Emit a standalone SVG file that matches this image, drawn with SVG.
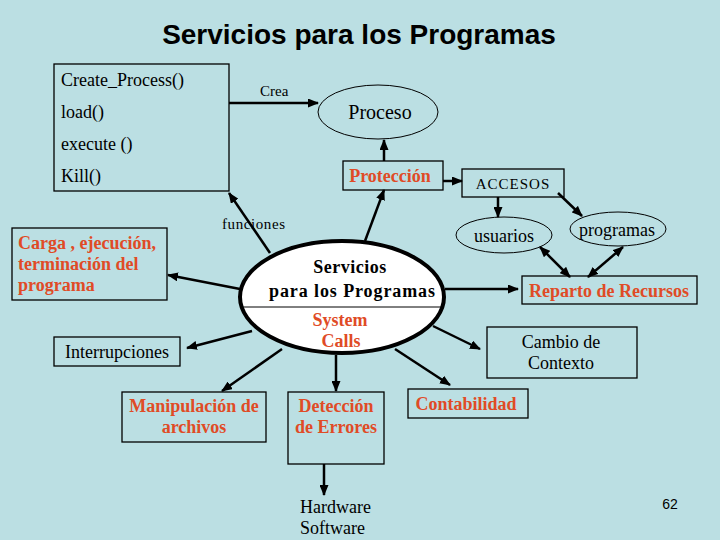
<svg xmlns="http://www.w3.org/2000/svg" width="720" height="540" viewBox="0 0 720 540">
<style>
.box{fill:none;stroke:#000;stroke-width:1.3}
.ell{fill:none;stroke:#000;stroke-width:1}
.r{font-weight:bold;fill:#E04B26}
.c{text-anchor:middle}
.ln{stroke:#000;stroke-width:2.5;fill:none;marker-end:url(#ah)}
</style>
<defs>
<marker id="ah" markerUnits="userSpaceOnUse" markerWidth="11" markerHeight="9" refX="10" refY="4.5" orient="auto-start-reverse">
<path d="M0,0 L11,4.5 L0,9 z" fill="#000"/>
</marker>
</defs>
<rect width="720" height="540" fill="#BBDFE3"/>
<text x="359" y="44" text-anchor="middle" font-family="'Liberation Sans', Arial, sans-serif" font-size="28" font-weight="bold">Servicios para los Programas</text>

<g font-family="'Liberation Serif', 'DejaVu Serif', serif" font-size="18">
<g id="connectors">
<line class="ln" x1="229" y1="103" x2="318" y2="103"/>
<line class="ln" x1="384" y1="161" x2="384" y2="140"/>
<line class="ln" x1="443" y1="181" x2="462" y2="181"/>
<line class="ln" x1="498" y1="197" x2="498" y2="217"/>
<line class="ln" x1="558" y1="193" x2="582" y2="216"/>
<line class="ln" style="marker-start:url(#ah)" x1="540" y1="247" x2="570" y2="277"/>
<line class="ln" style="marker-start:url(#ah)" x1="623" y1="247" x2="588" y2="277"/>
<line class="ln" x1="270" y1="253" x2="229" y2="193"/>
<line class="ln" x1="365" y1="241" x2="384" y2="190"/>
<line class="ln" x1="240" y1="289" x2="168" y2="275"/>
<line class="ln" x1="445" y1="289" x2="518" y2="289"/>
<line class="ln" x1="252" y1="331" x2="187" y2="348"/>
<line class="ln" x1="282" y1="349" x2="222" y2="391"/>
<line class="ln" x1="336" y1="355" x2="336" y2="391"/>
<line class="ln" x1="433" y1="326" x2="480" y2="349"/>
<line class="ln" x1="395" y1="349" x2="450" y2="385"/>
<line class="ln" x1="324" y1="464" x2="324" y2="495"/>
<text x="260" y="96" font-size="15">Crea</text>
<text x="222" y="229" font-size="15" textLength="63">funciones</text>
</g>

<g id="operaciones">
<rect class="box" x="54" y="64" width="175" height="127"/>
<text x="61" y="86">Create_Process()</text>
<text x="61" y="118">load()</text>
<text x="61" y="150">execute ()</text>
<text x="61" y="182">Kill()</text>
</g>

<g id="proceso">
<ellipse class="ell" cx="378" cy="112" rx="60" ry="27"/>
<text class="c" x="380" y="119" font-size="20">Proceso</text>
</g>

<g id="proteccion">
<rect class="box" x="343" y="161" width="100" height="29"/>
<text class="r c" x="390" y="182">Protección</text>
</g>

<g id="accesos">
<rect class="box" x="462" y="169" width="102" height="28"/>
<text class="c" x="513" y="189" font-size="15" letter-spacing="1">ACCESOS</text>
</g>

<g id="usuarios">
<ellipse class="ell" cx="504" cy="235" rx="48" ry="18"/>
<text class="c" x="504" y="242">usuarios</text>
</g>

<g id="programas">
<ellipse class="ell" cx="618" cy="229" rx="48" ry="17"/>
<text class="c" x="617" y="236">programas</text>
</g>

<g id="reparto">
<rect class="box" x="522" y="276" width="175" height="28"/>
<text class="r c" x="609" y="297">Reparto de Recursos</text>
</g>

<g id="carga">
<rect class="box" x="12" y="228" width="155" height="72"/>
<text class="r" x="18" y="249">Carga , ejecución,</text>
<text class="r" x="18" y="270">terminación del</text>
<text class="r" x="18" y="291">programa</text>
</g>

<g id="servicios">
<ellipse cx="342" cy="297" rx="102" ry="56" fill="#fff" stroke="#000" stroke-width="4"/>
<line x1="243" y1="307" x2="441" y2="307" stroke="#000" stroke-width="1"/>
<text class="c" x="350" y="273" font-weight="bold" letter-spacing="0.5">Servicios</text>
<text class="c" x="352" y="297" font-weight="bold" textLength="166">para los Programas</text>
<text class="r c" x="340" y="326">System</text>
<text class="r c" x="341" y="347">Calls</text>
</g>

<g id="interrupciones">
<rect class="box" x="54" y="337" width="126" height="29"/>
<text class="c" x="117" y="358">Interrupciones</text>
</g>

<g id="manipulacion">
<rect class="box" x="122" y="392" width="144" height="50"/>
<text class="r c" x="194" y="412">Manipulación de</text>
<text class="r c" x="194" y="433">archivos</text>
</g>

<g id="deteccion">
<rect class="box" x="288" y="392" width="96" height="72"/>
<text class="r c" x="336" y="412">Detección</text>
<text class="r c" x="336" y="433">de Errores</text>
</g>

<g id="hardware">
<text x="300" y="513">Hardware</text>
<text x="300" y="534">Software</text>
</g>

<g id="cambio">
<rect class="box" x="487" y="327" width="150" height="51"/>
<text class="c" x="561" y="348">Cambio de</text>
<text class="c" x="561" y="369">Contexto</text>
</g>

<g id="contabilidad">
<rect class="box" x="408" y="389" width="120" height="29"/>
<text class="r c" x="466" y="410">Contabilidad</text>
</g>
</g>

<text x="670" y="509" text-anchor="middle" font-family="'Liberation Sans', Arial, sans-serif" font-size="14">62</text>
</svg>
